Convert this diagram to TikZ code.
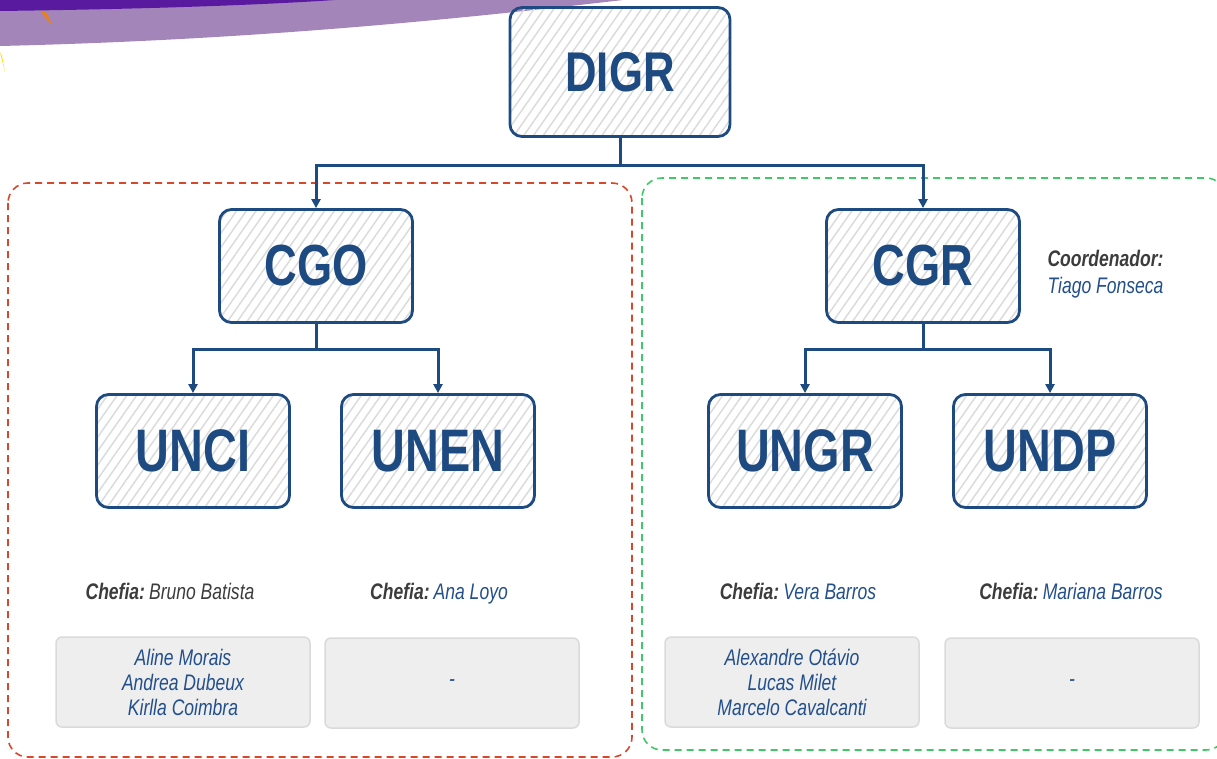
\documentclass[tikz,border=0pt]{standalone}
\usepackage{fontspec}
\setmainfont{Liberation Sans}[FakeStretch=0.78]
\usepackage{xcolor}
\usepackage{tikz}
\usetikzlibrary{arrows.meta,patterns.meta,positioning}
\definecolor{unitblue}{HTML}{1E4A82}
\definecolor{nameblue}{HTML}{234F8A}
\definecolor{textgray}{HTML}{3C3C3C}
\definecolor{redline}{HTML}{D9472B}
\definecolor{greenline}{HTML}{3FC866}
\definecolor{boxgray}{HTML}{EEEEEE}
\definecolor{boxedge}{HTML}{DADADA}
\definecolor{darkpurple}{HTML}{5A1AA0}
\definecolor{lightpurple}{HTML}{A485BA}
\tikzset{unitnode/.style={shape=rectangle,rounded corners=12pt,draw=unitblue,line width=2.8pt,
    pattern={Lines[angle=55,distance=8pt,line width=1.5pt]},pattern color=black!14,
    minimum width=193pt,minimum height=113pt,text=unitblue,font=\bfseries\fontsize{60}{60}\selectfont}}
\tikzset{chefiatext/.style={text=textgray,anchor=base,font=\itshape\fontsize{22.5}{27}\selectfont}}
\tikzset{namebox/.style={shape=rectangle,rounded corners=6pt,fill=boxgray,draw=boxedge,line width=1.5pt,
    minimum width=254pt,minimum height=90pt,align=center,text=nameblue,font=\itshape\fontsize{22.5}{25}\selectfont}}
\tikzset{orgarrow/.style={draw=unitblue,line width=3pt,-{Triangle[length=9pt,width=9pt]}}}
\tikzset{grouprect/.style={line width=1.6pt,rounded corners=20pt,dash pattern=on 7pt off 5pt}}
\newcommand{\chefia}{\textbf{Chefia:}\hspace{4pt}}

\begin{document}
\begin{tikzpicture}[x=1pt,y=-1pt]
	\useasboundingbox (0,0) rectangle (1217,758);
	% banner
	\fill[lightpurple] (0,0) -- (0,46) .. controls (250,40) and (450,20) .. (623,0) -- cycle;
	\fill[darkpurple] (0,0) -- (0,11) .. controls (150,9) and (260,5) .. (335,0) -- cycle;
	\fill[orange!70!brown] (40,11) -- (52,25) -- (47,13) -- cycle;
	\fill[yellow!80!orange] (0,52) -- (5,72) -- (2,56) -- cycle;
	%
	\draw[grouprect,draw=redline] (8,183) rectangle (632,757);
	\draw[grouprect,draw=greenline] (642,178) rectangle (1226,750);
	%
	\node[unitnode,minimum width=220pt,minimum height=129pt,font=\bfseries\fontsize{56}{56}\selectfont] (DIGR) at (620,72) {DIGR};
	\node[unitnode,font=\bfseries\fontsize{58}{58}\selectfont] (CGO) at (316,266) {CGO};
	\node[unitnode,font=\bfseries\fontsize{58}{58}\selectfont] (CGR) at (923,266) {CGR};
	\node[unitnode] (UNCI) at (193,451) {UNCI};
	\node[unitnode] (UNEN) at (438,451) {UNEN};
	\node[unitnode] (UNGR) at (805,451) {UNGR};
	\node[unitnode] (UNDP) at (1050,451) {UNDP};
	%
	\draw[orgarrow] (DIGR.south) -- ++(0,28) -| (CGO.north);
	\draw[orgarrow] (DIGR.south) -- ++(0,28) -| (CGR.north);
	\draw[orgarrow] (CGO.south) -- ++(0,26) -| (UNCI.north);
	\draw[orgarrow] (CGO.south) -- ++(0,26) -| (UNEN.north);
	\draw[orgarrow] (CGR.south) -- ++(0,26) -| (UNGR.north);
	\draw[orgarrow] (CGR.south) -- ++(0,26) -| (UNDP.north);
	%
	\node[chefiatext,align=left,anchor=west] (coordCGR) at (1044,274) {\textbf{Coordenador:}\\\textcolor{nameblue}{Tiago Fonseca}};
	%
	\node[chefiatext] (chefUNCI) at (170,599) {\chefia Bruno Batista};
	\node[chefiatext] (chefUNEN) at (439,599) {\chefia\textcolor{nameblue}{Ana Loyo}};
	\node[chefiatext] (chefUNGR) at (798,599) {\chefia\textcolor{nameblue}{Vera Barros}};
	\node[chefiatext] (chefUNDP) at (1071,599) {\chefia\textcolor{nameblue}{Mariana Barros}};
	%
	\node[namebox] (staffUNCI) at (183,682) {Aline Morais\\Andrea Dubeux\\Kirlla Coimbra};
	\node[namebox] (staffUNEN) at (452,683) {-};
	\node[namebox] (staffUNGR) at (792,682) {Alexandre Otávio\\Lucas Milet\\Marcelo Cavalcanti};
	\node[namebox] (staffUNDP) at (1072,683) {-};
\end{tikzpicture}
\end{document}
